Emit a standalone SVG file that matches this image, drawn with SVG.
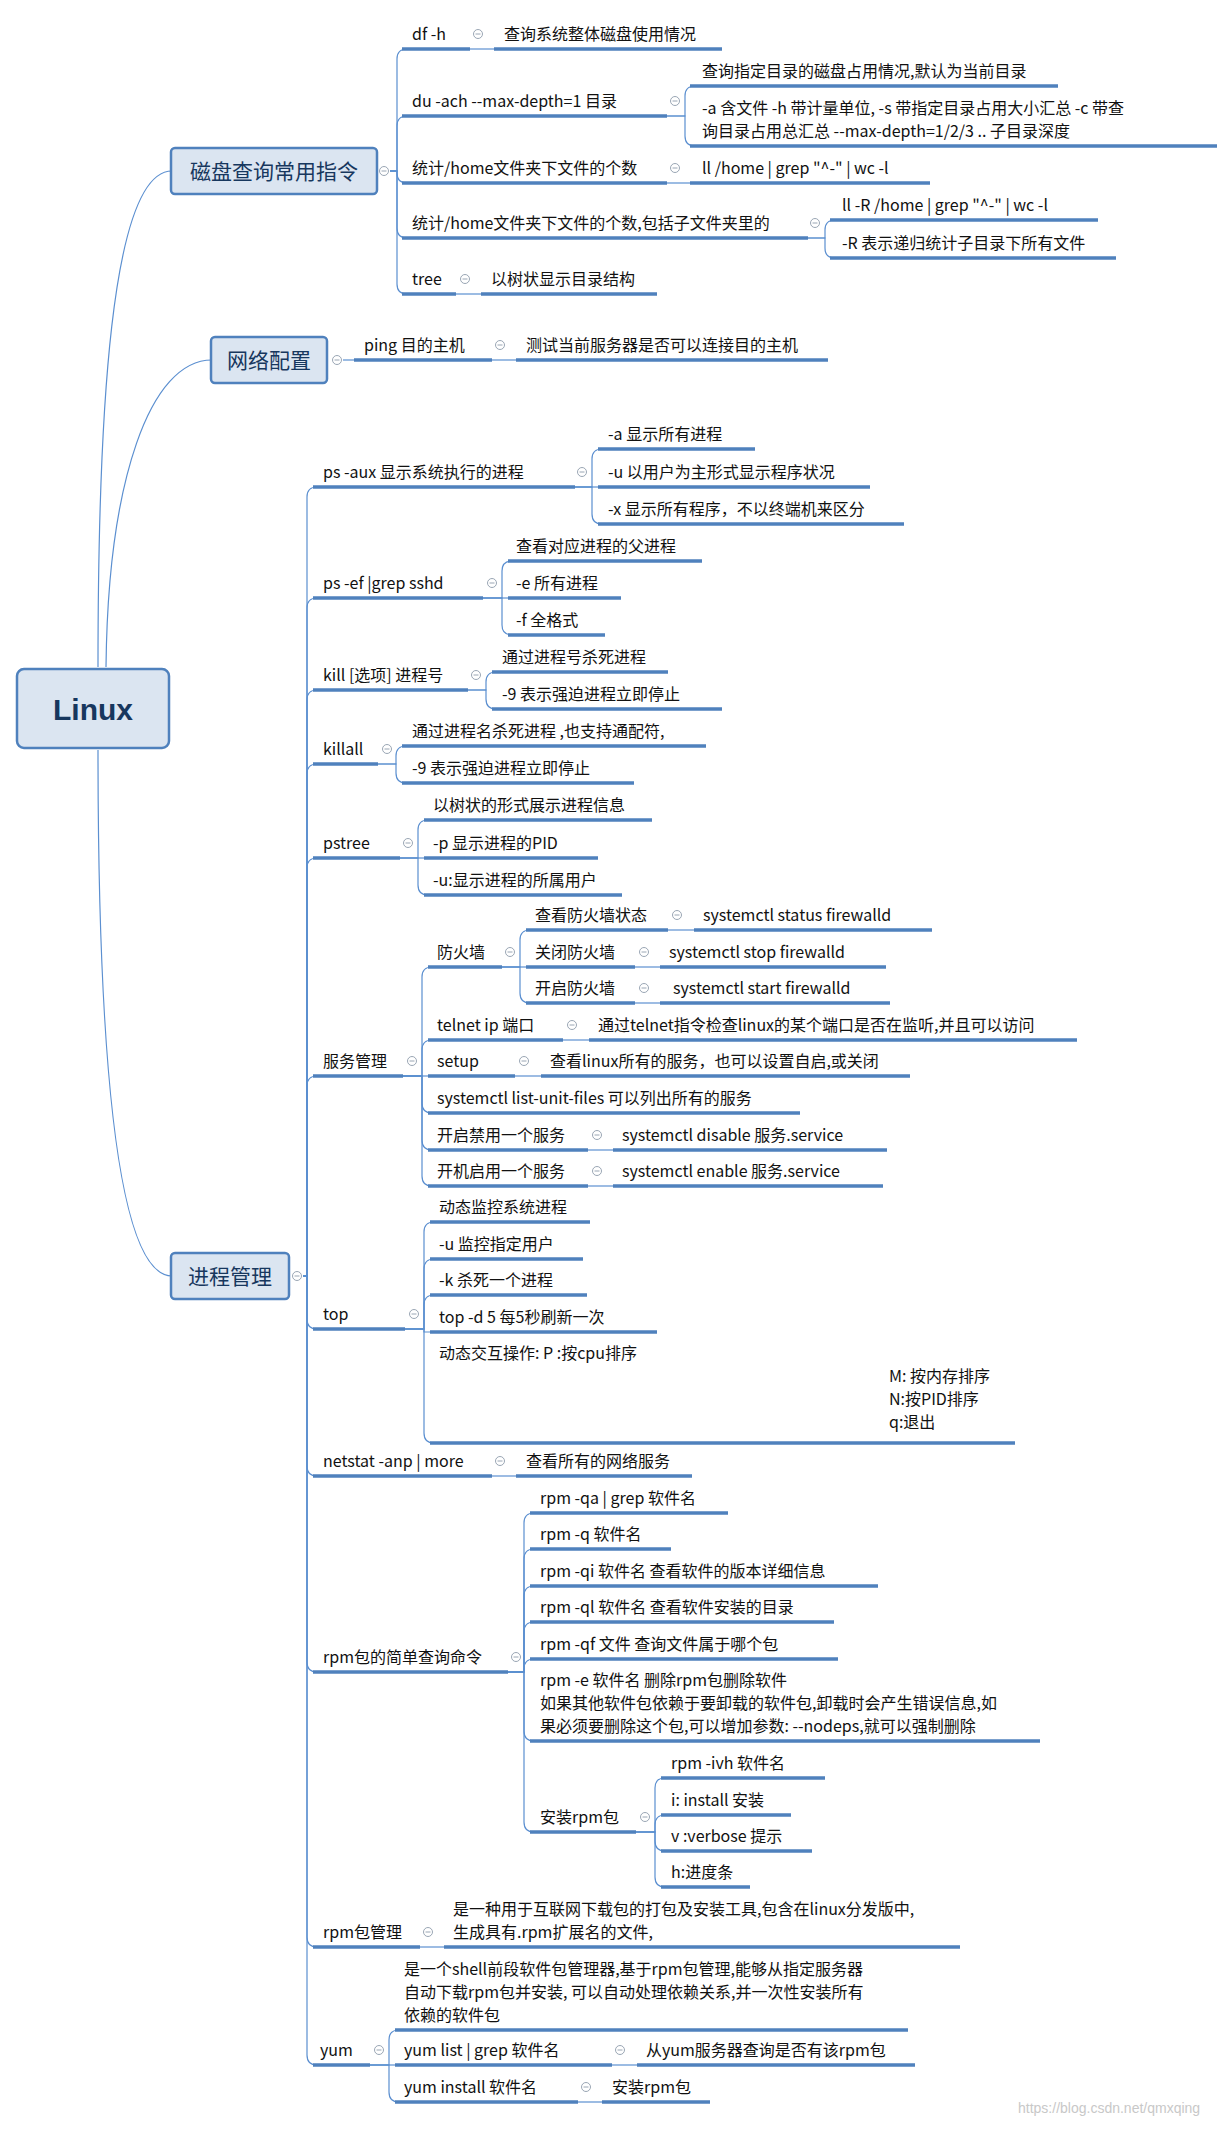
<svg xmlns="http://www.w3.org/2000/svg" xmlns:xlink="http://www.w3.org/1999/xlink" width="1228" height="2131" viewBox="0 0 1228 2131">
<style>
.t{font-family:"Microsoft YaHei","Noto Sans CJK SC",sans-serif;font-size:16px;fill:#111}
.u{stroke:#4f81bd;stroke-width:3.5;fill:none}
.c path{stroke:#5b8fd0;stroke-width:1.2;fill:none}
.box{fill:#dbe5f1;stroke:#4f81bd;stroke-width:2.5}
.bt{font-family:"Microsoft YaHei","Noto Sans CJK SC",sans-serif;font-size:21px;fill:#17375e}
.wm{font-family:"Liberation Sans",sans-serif;font-size:14px;fill:#c8c8c8}
</style>
<defs>
<g id="m"><circle r="4.5" fill="#fff" stroke="#9aa6b4" stroke-width="1"/><line x1="-2.5" y1="0" x2="2.5" y2="0" stroke="#9aa6b4" stroke-width="1"/></g>
</defs>
<rect width="1228" height="2131" fill="#fff"/>
<g class="c" id="connectors">
<path d="M98 667 C98 420 110 171 172 171"/>
<path d="M106 667 C108 480 150 360 212 360"/>
<path d="M98 750 C98 1000 110 1276 172 1276"/>
<path d="M390 171 H397 V59 Q397 49 407 49"/>
<path d="M390 171 H397 V126 Q397 116 407 116"/>
<path d="M390 171 H397 V173 Q397 183 407 183"/>
<path d="M390 171 H397 V228 Q397 238 407 238"/>
<path d="M390 171 H397 V284 Q397 294 407 294"/>
<path d="M470 49 H494"/>
<path d="M667 116 H685 V96 Q685 86 695 86"/>
<path d="M667 116 H685 V136 Q685 146 695 146"/>
<path d="M667 183 H690"/>
<path d="M808 238 H825 V230 Q825 220 835 220"/>
<path d="M808 238 H825 V248 Q825 258 835 258"/>
<path d="M456 294 H481"/>
<path d="M343 360 H354"/>
<path d="M492 360 H516"/>
<path d="M303 1276 H307 V497 Q307 487 317 487"/>
<path d="M303 1276 H307 V608 Q307 598 317 598"/>
<path d="M303 1276 H307 V700 Q307 690 317 690"/>
<path d="M303 1276 H307 V774 Q307 764 317 764"/>
<path d="M303 1276 H307 V868 Q307 858 317 858"/>
<path d="M303 1276 H307 V1086 Q307 1076 317 1076"/>
<path d="M303 1276 H307 V1319 Q307 1329 317 1329"/>
<path d="M303 1276 H307 V1466 Q307 1476 317 1476"/>
<path d="M303 1276 H307 V1662 Q307 1672 317 1672"/>
<path d="M303 1276 H307 V1937 Q307 1947 317 1947"/>
<path d="M303 1276 H307 V2055 Q307 2065 317 2065"/>
<path d="M575 487 H592 V459 Q592 449 602 449"/>
<path d="M575 487 H598"/>
<path d="M575 487 H592 V514 Q592 524 602 524"/>
<path d="M483 598 H502 V571 Q502 561 512 561"/>
<path d="M483 598 H508"/>
<path d="M483 598 H502 V625 Q502 635 512 635"/>
<path d="M468 690 H486 V682 Q486 672 496 672"/>
<path d="M468 690 H486 V699 Q486 709 496 709"/>
<path d="M378 764 H396 V756 Q396 746 406 746"/>
<path d="M378 764 H396 V773 Q396 783 406 783"/>
<path d="M400 858 H418 V830 Q418 820 428 820"/>
<path d="M400 858 H424"/>
<path d="M400 858 H418 V885 Q418 895 428 895"/>
<path d="M403 1076 H422 V977 Q422 967 432 967"/>
<path d="M403 1076 H422 V1050 Q422 1040 432 1040"/>
<path d="M403 1076 H428"/>
<path d="M403 1076 H422 V1103 Q422 1113 432 1113"/>
<path d="M403 1076 H422 V1140 Q422 1150 432 1150"/>
<path d="M403 1076 H422 V1176 Q422 1186 432 1186"/>
<path d="M502 967 H520 V940 Q520 930 530 930"/>
<path d="M502 967 H526"/>
<path d="M502 967 H520 V993 Q520 1003 530 1003"/>
<path d="M668 930 H694"/>
<path d="M635 967 H660"/>
<path d="M635 1003 H660"/>
<path d="M563 1040 H589"/>
<path d="M515 1076 H541"/>
<path d="M588 1150 H613"/>
<path d="M588 1186 H613"/>
<path d="M405 1329 H424 V1232 Q424 1222 434 1222"/>
<path d="M405 1329 H424 V1269 Q424 1259 434 1259"/>
<path d="M405 1329 H424 V1305 Q424 1295 434 1295"/>
<path d="M405 1329 H424 V1332 Q424 1332 430 1332"/>
<path d="M405 1329 H424 V1433 Q424 1443 434 1443"/>
<path d="M492 1476 H516"/>
<path d="M508 1672 H524 V1523 Q524 1513 534 1513"/>
<path d="M508 1672 H524 V1559 Q524 1549 534 1549"/>
<path d="M508 1672 H524 V1596 Q524 1586 534 1586"/>
<path d="M508 1672 H524 V1632 Q524 1622 534 1622"/>
<path d="M508 1672 H524 V1669 Q524 1659 534 1659"/>
<path d="M508 1672 H524 V1731 Q524 1741 534 1741"/>
<path d="M508 1672 H524 V1822 Q524 1832 534 1832"/>
<path d="M636 1832 H655 V1788 Q655 1778 665 1778"/>
<path d="M636 1832 H655 V1825 Q655 1815 665 1815"/>
<path d="M636 1832 H655 V1841 Q655 1851 665 1851"/>
<path d="M636 1832 H655 V1877 Q655 1887 665 1887"/>
<path d="M420 1947 H444"/>
<path d="M370 2065 H389 V2040 Q389 2030 399 2030"/>
<path d="M370 2065 H395"/>
<path d="M370 2065 H389 V2092 Q389 2102 399 2102"/>
<path d="M612 2065 H637"/>
<path d="M578 2102 H602"/>
</g>

<g id="linux"><rect class="box" x="17" y="669" width="152" height="79" rx="7" stroke-width="3.5"/><text x="93" y="720" text-anchor="middle" font-family="Liberation Sans,sans-serif" font-size="30" font-weight="bold" fill="#17375e">Linux</text></g>
<g id="disk"><rect class="box" x="171" y="148" width="206" height="46" rx="4"/><text class="bt" x="274" y="179" text-anchor="middle">磁盘查询常用指令</text><use href="#m" x="384" y="171"/></g>
<g id="net"><rect class="box" x="211" y="337" width="116" height="46" rx="4"/><text class="bt" x="269" y="368" text-anchor="middle">网络配置</text><use href="#m" x="337" y="360"/></g>
<g id="proc"><rect class="box" x="171" y="1253" width="118" height="46" rx="4"/><text class="bt" x="230" y="1284" text-anchor="middle">进程管理</text><use href="#m" x="297" y="1276"/></g>

<g id="df"><line class="u" x1="402" y1="49" x2="470" y2="49"/><text class="t" x="412" y="40">df  -h</text><use href="#m" x="478" y="34"/></g>
<g id="df1"><line class="u" x1="494" y1="49" x2="722" y2="49"/><text class="t" x="504" y="40">查询系统整体磁盘使用情况</text></g>
<g id="du"><line class="u" x1="402" y1="116" x2="667" y2="116"/><text class="t" x="412" y="107">du -ach --max-depth=1   目录</text><use href="#m" x="675" y="101"/></g>
<g id="du1"><line class="u" x1="690" y1="86" x2="1058" y2="86"/><text class="t" x="702" y="77">查询指定目录的磁盘占用情况,默认为当前目录</text></g>
<g id="du2"><line class="u" x1="690" y1="146" x2="1217" y2="146"/><text class="t" x="702" y="114">-a  含文件    -h  带计量单位,    -s 带指定目录占用大小汇总 -c  带查</text><text class="t" x="702" y="137">询目录占用总汇总      --max-depth=1/2/3 ..  子目录深度</text></g>
<g id="cnt"><line class="u" x1="402" y1="183" x2="667" y2="183"/><text class="t" x="412" y="174">统计/home文件夹下文件的个数</text><use href="#m" x="675" y="168"/></g>
<g id="cnt1"><line class="u" x1="690" y1="183" x2="930" y2="183"/><text class="t" x="702" y="174">ll /home | grep "^-" | wc -l</text></g>
<g id="cntr"><line class="u" x1="402" y1="238" x2="808" y2="238"/><text class="t" x="412" y="229">统计/home文件夹下文件的个数,包括子文件夹里的</text><use href="#m" x="815" y="223"/></g>
<g id="cntr1"><line class="u" x1="830" y1="220" x2="1098" y2="220"/><text class="t" x="842" y="211">ll  -R /home | grep "^-" | wc -l</text></g>
<g id="cntr2"><line class="u" x1="830" y1="258" x2="1116" y2="258"/><text class="t" x="842" y="249">-R 表示递归统计子目录下所有文件</text></g>
<g id="tree"><line class="u" x1="402" y1="294" x2="456" y2="294"/><text class="t" x="412" y="285">tree</text><use href="#m" x="465" y="279"/></g>
<g id="tree1"><line class="u" x1="481" y1="294" x2="657" y2="294"/><text class="t" x="491" y="285">以树状显示目录结构</text></g>
<g id="ping"><line class="u" x1="354" y1="360" x2="492" y2="360"/><text class="t" x="364" y="351">ping  目的主机</text><use href="#m" x="500" y="345"/></g>
<g id="ping1"><line class="u" x1="516" y1="360" x2="828" y2="360"/><text class="t" x="526" y="351">测试当前服务器是否可以连接目的主机</text></g>

<g id="psaux"><line class="u" x1="313" y1="487" x2="575" y2="487"/><text class="t" x="323" y="478">ps -aux     显示系统执行的进程</text><use href="#m" x="582" y="472"/></g>
<g id="psaux1"><line class="u" x1="598" y1="449" x2="755" y2="449"/><text class="t" x="608" y="440">-a   显示所有进程</text></g>
<g id="psaux2"><line class="u" x1="598" y1="487" x2="870" y2="487"/><text class="t" x="608" y="478">-u  以用户为主形式显示程序状况</text></g>
<g id="psaux3"><line class="u" x1="598" y1="524" x2="904" y2="524"/><text class="t" x="608" y="515">-x  显示所有程序，不以终端机来区分</text></g>
<g id="psef"><line class="u" x1="313" y1="598" x2="483" y2="598"/><text class="t" x="323" y="589">ps  -ef  |grep sshd</text><use href="#m" x="492" y="583"/></g>
<g id="psef1"><line class="u" x1="508" y1="561" x2="702" y2="561"/><text class="t" x="516" y="552">查看对应进程的父进程</text></g>
<g id="psef2"><line class="u" x1="508" y1="598" x2="621" y2="598"/><text class="t" x="516" y="589">-e 所有进程</text></g>
<g id="psef3"><line class="u" x1="508" y1="635" x2="605" y2="635"/><text class="t" x="516" y="626">-f  全格式</text></g>
<g id="kill"><line class="u" x1="313" y1="690" x2="468" y2="690"/><text class="t" x="323" y="681">kill [选项] 进程号</text><use href="#m" x="476" y="675"/></g>
<g id="kill1"><line class="u" x1="492" y1="672" x2="668" y2="672"/><text class="t" x="502" y="663">通过进程号杀死进程</text></g>
<g id="kill2"><line class="u" x1="492" y1="709" x2="722" y2="709"/><text class="t" x="502" y="700">-9     表示强迫进程立即停止</text></g>
<g id="killall"><line class="u" x1="313" y1="764" x2="378" y2="764"/><text class="t" x="323" y="755">killall</text><use href="#m" x="387" y="749"/></g>
<g id="killall1"><line class="u" x1="402" y1="746" x2="706" y2="746"/><text class="t" x="412" y="737">通过进程名杀死进程    ,也支持通配符,</text></g>
<g id="killall2"><line class="u" x1="402" y1="783" x2="634" y2="783"/><text class="t" x="412" y="774">-9     表示强迫进程立即停止</text></g>
<g id="pstree"><line class="u" x1="313" y1="858" x2="400" y2="858"/><text class="t" x="323" y="849">pstree</text><use href="#m" x="408" y="843"/></g>
<g id="pstree1"><line class="u" x1="424" y1="820" x2="652" y2="820"/><text class="t" x="433" y="811">以树状的形式展示进程信息</text></g>
<g id="pstree2"><line class="u" x1="424" y1="858" x2="598" y2="858"/><text class="t" x="433" y="849">-p     显示进程的PID</text></g>
<g id="pstree3"><line class="u" x1="424" y1="895" x2="622" y2="895"/><text class="t" x="433" y="886">-u:显示进程的所属用户</text></g>

<g id="svc"><line class="u" x1="313" y1="1076" x2="403" y2="1076"/><text class="t" x="323" y="1067">服务管理</text><use href="#m" x="412" y="1061"/></g>
<g id="fw"><line class="u" x1="428" y1="967" x2="502" y2="967"/><text class="t" x="437" y="958">防火墙</text><use href="#m" x="510" y="952"/></g>
<g id="fw1"><line class="u" x1="526" y1="930" x2="668" y2="930"/><text class="t" x="535" y="921">查看防火墙状态</text><use href="#m" x="677" y="915"/></g>
<g id="fw1a"><line class="u" x1="694" y1="930" x2="932" y2="930"/><text class="t" x="703" y="921">systemctl    status firewalld</text></g>
<g id="fw2"><line class="u" x1="526" y1="967" x2="635" y2="967"/><text class="t" x="535" y="958">关闭防火墙</text><use href="#m" x="644" y="952"/></g>
<g id="fw2a"><line class="u" x1="660" y1="967" x2="886" y2="967"/><text class="t" x="669" y="958">systemctl    stop firewalld</text></g>
<g id="fw3"><line class="u" x1="526" y1="1003" x2="635" y2="1003"/><text class="t" x="535" y="994">开启防火墙</text><use href="#m" x="644" y="988"/></g>
<g id="fw3a"><line class="u" x1="660" y1="1003" x2="890" y2="1003"/><text class="t" x="673" y="994">systemctl    start firewalld</text></g>
<g id="telnet"><line class="u" x1="428" y1="1040" x2="563" y2="1040"/><text class="t" x="437" y="1031">telnet ip  端口</text><use href="#m" x="572" y="1025"/></g>
<g id="telnet1"><line class="u" x1="589" y1="1040" x2="1077" y2="1040"/><text class="t" x="598" y="1031">通过telnet指令检查linux的某个端口是否在监听,并且可以访问</text></g>
<g id="setup"><line class="u" x1="428" y1="1076" x2="515" y2="1076"/><text class="t" x="437" y="1067">setup</text><use href="#m" x="524" y="1061"/></g>
<g id="setup1"><line class="u" x1="541" y1="1076" x2="910" y2="1076"/><text class="t" x="550" y="1067">查看linux所有的服务，也可以设置自启,或关闭</text></g>
<g id="list"><line class="u" x1="428" y1="1113" x2="800" y2="1113"/><text class="t" x="437" y="1104">systemctl  list-unit-files 可以列出所有的服务</text></g>
<g id="dis"><line class="u" x1="428" y1="1150" x2="588" y2="1150"/><text class="t" x="437" y="1141">开启禁用一个服务</text><use href="#m" x="597" y="1135"/></g>
<g id="dis1"><line class="u" x1="613" y1="1150" x2="887" y2="1150"/><text class="t" x="622" y="1141">systemctl  disable  服务.service</text></g>
<g id="en"><line class="u" x1="428" y1="1186" x2="588" y2="1186"/><text class="t" x="437" y="1177">开机启用一个服务</text><use href="#m" x="597" y="1171"/></g>
<g id="en1"><line class="u" x1="613" y1="1186" x2="883" y2="1186"/><text class="t" x="622" y="1177">systemctl  enable  服务.service</text></g>

<g id="top"><line class="u" x1="313" y1="1329" x2="405" y2="1329"/><text class="t" x="323" y="1320">top</text><use href="#m" x="414" y="1314"/></g>
<g id="top1"><line class="u" x1="430" y1="1222" x2="590" y2="1222"/><text class="t" x="439" y="1213">动态监控系统进程</text></g>
<g id="top2"><line class="u" x1="430" y1="1259" x2="583" y2="1259"/><text class="t" x="439" y="1250">-u  监控指定用户</text></g>
<g id="top3"><line class="u" x1="430" y1="1295" x2="587" y2="1295"/><text class="t" x="439" y="1286">-k   杀死一个进程</text></g>
<g id="top4"><line class="u" x1="430" y1="1332" x2="657" y2="1332"/><text class="t" x="439" y="1323">top -d  5     每5秒刷新一次</text></g>
<g id="top5"><line class="u" x1="430" y1="1443" x2="1015" y2="1443"/><text class="t" x="439" y="1359">动态交互操作:      P :按cpu排序</text><text class="t" x="889" y="1382">M: 按内存排序</text><text class="t" x="889" y="1405">N:按PID排序</text><text class="t" x="889" y="1428">q:退出</text></g>

<g id="netstat"><line class="u" x1="313" y1="1476" x2="492" y2="1476"/><text class="t" x="323" y="1467">netstat -anp | more</text><use href="#m" x="500" y="1461"/></g>
<g id="netstat1"><line class="u" x1="516" y1="1476" x2="692" y2="1476"/><text class="t" x="526" y="1467">查看所有的网络服务</text></g>

<g id="rpmq"><line class="u" x1="313" y1="1672" x2="508" y2="1672"/><text class="t" x="323" y="1663">rpm包的简单查询命令</text><use href="#m" x="516" y="1657"/></g>
<g id="rq1"><line class="u" x1="530" y1="1513" x2="728" y2="1513"/><text class="t" x="540" y="1504">rpm -qa | grep 软件名</text></g>
<g id="rq2"><line class="u" x1="530" y1="1549" x2="671" y2="1549"/><text class="t" x="540" y="1540">rpm -q  软件名</text></g>
<g id="rq3"><line class="u" x1="530" y1="1586" x2="878" y2="1586"/><text class="t" x="540" y="1577">rpm  -qi  软件名  查看软件的版本详细信息</text></g>
<g id="rq4"><line class="u" x1="530" y1="1622" x2="834" y2="1622"/><text class="t" x="540" y="1613">rpm -ql  软件名 查看软件安装的目录</text></g>
<g id="rq5"><line class="u" x1="530" y1="1659" x2="838" y2="1659"/><text class="t" x="540" y="1650">rpm  -qf   文件   查询文件属于哪个包</text></g>
<g id="rq6"><line class="u" x1="530" y1="1741" x2="1040" y2="1741"/><text class="t" x="540" y="1686">rpm  -e  软件名    删除rpm包删除软件</text><text class="t" x="540" y="1709">如果其他软件包依赖于要卸载的软件包,卸载时会产生错误信息,如</text><text class="t" x="540" y="1732">果必须要删除这个包,可以增加参数:  --nodeps,就可以强制删除</text></g>
<g id="rinst"><line class="u" x1="530" y1="1832" x2="636" y2="1832"/><text class="t" x="540" y="1823">安装rpm包</text><use href="#m" x="645" y="1817"/></g>
<g id="ri1"><line class="u" x1="661" y1="1778" x2="825" y2="1778"/><text class="t" x="671" y="1769">rpm   -ivh  软件名</text></g>
<g id="ri2"><line class="u" x1="661" y1="1815" x2="791" y2="1815"/><text class="t" x="671" y="1806">i: install  安装</text></g>
<g id="ri3"><line class="u" x1="661" y1="1851" x2="812" y2="1851"/><text class="t" x="671" y="1842">v :verbose  提示</text></g>
<g id="ri4"><line class="u" x1="661" y1="1887" x2="750" y2="1887"/><text class="t" x="671" y="1878">h:进度条</text></g>

<g id="rpmm"><line class="u" x1="313" y1="1947" x2="420" y2="1947"/><text class="t" x="323" y="1938">rpm包管理</text><use href="#m" x="428" y="1932"/></g>
<g id="rpmm1"><line class="u" x1="444" y1="1947" x2="960" y2="1947"/><text class="t" x="453" y="1915">是一种用于互联网下载包的打包及安装工具,包含在linux分发版中,</text><text class="t" x="453" y="1938">生成具有.rpm扩展名的文件,</text></g>

<g id="yum"><line class="u" x1="313" y1="2065" x2="370" y2="2065"/><text class="t" x="320" y="2056">yum</text><use href="#m" x="379" y="2050"/></g>
<g id="yum1"><line class="u" x1="395" y1="2030" x2="908" y2="2030"/><text class="t" x="404" y="1975">是一个shell前段软件包管理器,基于rpm包管理,能够从指定服务器</text><text class="t" x="404" y="1998">自动下载rpm包并安装, 可以自动处理依赖关系,并一次性安装所有</text><text class="t" x="404" y="2021">依赖的软件包</text></g>
<g id="yum2"><line class="u" x1="395" y1="2065" x2="612" y2="2065"/><text class="t" x="404" y="2056">yum   list  | grep  软件名</text><use href="#m" x="620" y="2050"/></g>
<g id="yum2a"><line class="u" x1="637" y1="2065" x2="915" y2="2065"/><text class="t" x="646" y="2056">从yum服务器查询是否有该rpm包</text></g>
<g id="yum3"><line class="u" x1="395" y1="2102" x2="578" y2="2102"/><text class="t" x="404" y="2093">yum  install   软件名</text><use href="#m" x="586" y="2087"/></g>
<g id="yum3a"><line class="u" x1="602" y1="2102" x2="710" y2="2102"/><text class="t" x="612" y="2093">安装rpm包</text></g>
<text class="wm" x="1018" y="2113">https://blog.csdn.net/qmxqing</text>
</svg>
